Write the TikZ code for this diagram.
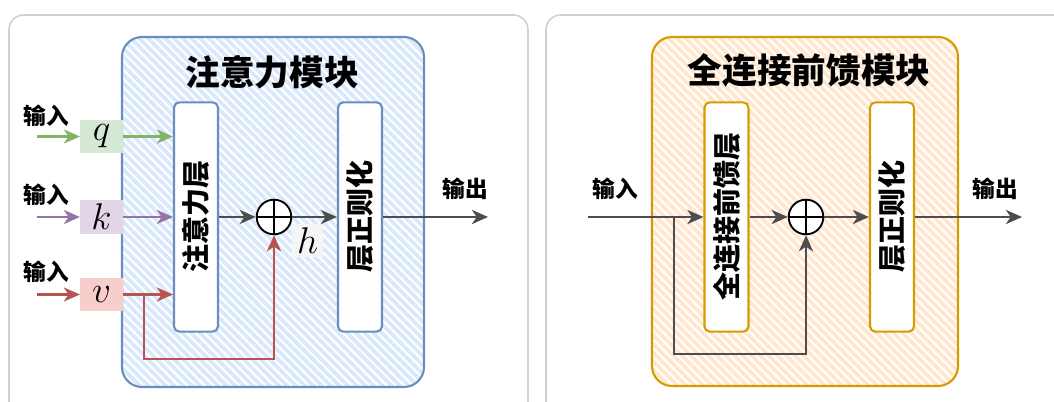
\documentclass[tikz,border=0pt]{standalone}
\usepackage{fontspec}
\newfontfamily\cjk{Noto Sans CJK SC}
\usetikzlibrary{positioning}
\usetikzlibrary{arrows.meta, calc}
\usetikzlibrary{patterns.meta}

\definecolor{attnline}{HTML}{6C8EBF}
\definecolor{attnfill}{HTML}{DAE8FC}
\definecolor{ffnline}{HTML}{D79B00}
\definecolor{ffnfill}{HTML}{FFE6CC}
\definecolor{qgreen}{HTML}{82B366}
\definecolor{qgreenfill}{HTML}{D5E8D4}
\definecolor{kpurple}{HTML}{9673A6}
\definecolor{kpurplefill}{HTML}{E1D5E7}
\definecolor{vred}{HTML}{B85450}
\definecolor{vredfill}{HTML}{F8CECC}
\definecolor{arrowgrey}{HTML}{4D4D4D}

\newcommand{\bigvar}[1]{\scalebox{1.12}{$#1$}}

\begin{document}
\begin{tikzpicture}
  [
    x=0.75pt, y=-0.75pt,
    >={Stealth[length=12pt, width=10.5pt, inset=3.5pt]},
    panel/.style = {draw=black!18, line width=1.2pt, rounded corners=11pt},
    block/.style = {line width=1.6pt, rounded corners=15pt, pattern={Lines[angle=-45, distance=4.6pt, line width=2.8pt]}},
    layer/.style = {draw, fill=white, line width=1.6pt, rounded corners=4pt, minimum width=33pt, minimum height=172pt, inner sep=0pt, font=\cjk\bfseries\fontsize{21}{21}\selectfont},
    title/.style = {font=\cjk\bfseries\fontsize{26}{26}\selectfont},
    io/.style    = {font=\cjk\bfseries\fontsize{17}{17}\selectfont},
    inbox/.style = {minimum width=32pt, minimum height=25pt, inner sep=0pt, font=\fontsize{24.88}{25}\selectfont},
    plus/.style  = {circle, draw=black, fill=white, line width=1.4pt, minimum size=26pt, inner sep=0pt,
                    path picture={\draw[line width=1.4pt] (path picture bounding box.north) -- (path picture bounding box.south)
                                  (path picture bounding box.west) -- (path picture bounding box.east);}},
    flow/.style  = {line width=2.2pt, draw=arrowgrey},
  ]

  \useasboundingbox (0,0) rectangle (1054,402);
  \clip (0,0) rectangle (1054,402);

  \def\midy{217}

  % Attention panel
  \draw[panel] (9,15) rectangle (528,430);
  \draw[block, draw=attnline, pattern color=attnfill] (122,37) rectangle (424,387);
  \node[title] (attntitle) at (272,72) {注意力模块};

  \node[layer, draw=attnline] (attn) at (196,\midy) {\rotatebox{90}{注意力层}};
  \node[layer, draw=attnline] (attnnorm) at (360,\midy) {\rotatebox{90}{层正则化}};
  \node[plus] (attnplus) at (274,\midy) {};
  \node[inbox, fill=black!4, minimum width=23pt] (h) at (307.5,240.5) {\bigvar{h}};

  % inputs q, k, v
  \node[inbox, fill=qgreenfill] (q) at (101.5,136.5) {\bigvar{q}};
  \node[inbox, fill=kpurplefill] (k) at (101.5,\midy) {\bigvar{k}};
  \node[inbox, fill=vredfill] (v) at (101.5,294.5) {\bigvar{v}};

  \node[io] (qlabel) at (46,116) {输入};
  \node[io] (klabel) at (46,195) {输入};
  \node[io] (vlabel) at (46,272) {输入};

  \coordinate (qin) at (37,136.5);
  \coordinate (kin) at (37,\midy);
  \coordinate (vin) at (37,294.5);

  \draw[->, flow, draw=qgreen] (qin) -- (q);
  \draw[->, flow, draw=qgreen] (q) -- (q -| attn.west);
  \draw[->, flow, draw=kpurple] (kin) -- (k);
  \draw[->, flow, draw=kpurple] (k) -- (attn);
  \draw[->, flow, draw=vred] (vin) -- (v);
  \draw[->, flow, draw=vred] (v) -- (v -| attn.west);

  % residual branch of v
  \coordinate (vsplit) at (144,294.5);
  \coordinate (vloop) at (144,359);
  \draw[->, flow, draw=vred] (vsplit) -- (vloop) -| (attnplus);

  \draw[->, flow] (attn) -- (attnplus);
  \draw[->, flow] (attnplus) -- (attnnorm);

  \coordinate (attnout) at (488,\midy);
  \draw[->, flow] (attnnorm) -- (attnout);
  \node[io] (attnoutlabel) at (465,189) {输出};


  % Feed-forward panel
  \draw[panel] (546,15) rectangle (1080,430);
  \draw[block, draw=ffnline, pattern color=ffnfill] (652,37) rectangle (958,386);
  \node[title] (ffntitle) at (809,70) {全连接前馈模块};

  \node[layer, draw=ffnline] (ffn) at (726.5,\midy) {\rotatebox{90}{全连接前馈层}};
  \node[layer, draw=ffnline] (ffnnorm) at (892,\midy) {\rotatebox{90}{层正则化}};
  \node[plus] (ffnplus) at (806,\midy) {};

  \coordinate (ffnin) at (588,\midy);
  \node[io] (ffninlabel) at (615,189) {输入};
  \draw[->, flow] (ffnin) -- (ffn);

  % residual branch
  \coordinate (ffnsplit) at (674,\midy);
  \coordinate (ffnloop) at (674,354);
  \draw[->, flow] (ffnsplit) -- (ffnloop) -| (ffnplus);

  \draw[->, flow] (ffn) -- (ffnplus);
  \draw[->, flow] (ffnplus) -- (ffnnorm);

  \coordinate (ffnout) at (1022,\midy);
  \draw[->, flow] (ffnnorm) -- (ffnout);
  \node[io] (ffnoutlabel) at (995,189) {输出};
\end{tikzpicture}
\end{document}
